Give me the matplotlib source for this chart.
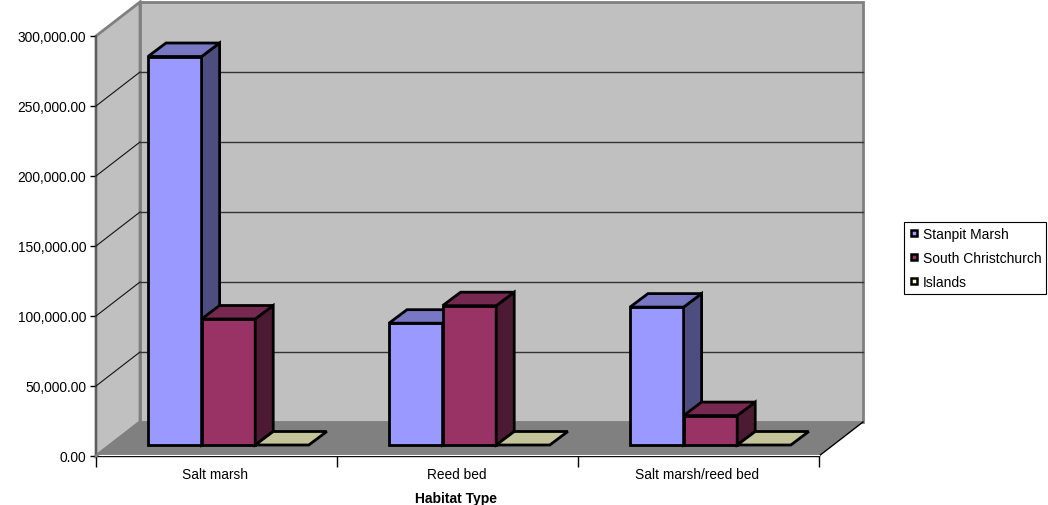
import matplotlib
matplotlib.use('Agg')
import matplotlib.pyplot as plt
from matplotlib.patches import Polygon
from matplotlib.lines import Line2D

plt.rcParams['font.family'] = ['Liberation Sans', 'DejaVu Sans']

categories = ['Salt marsh', 'Reed bed', 'Salt marsh/reed bed']
stanpit = [277500, 87000, 98500]
south = [90000, 99500, 21000]
islands = [0, 0, 0]
series_names = ['Stanpit Marsh', 'South Christchurch', 'Islands']
yticks = [0, 50000, 100000, 150000, 200000, 250000, 300000]

front_cols = ['#9999FF', '#993366', '#FFFFCC']
side_cols = ['#4D4D80', '#4D1A33', '#808066']
top_cols = ['#7777C4', '#772850', '#C4C49B']

W, H = 1048, 506
fig = plt.figure(figsize=(W / 100, H / 100), dpi=100, facecolor='white')
ax = fig.add_axes([96 / W, 1 - 457 / H, 723 / W, 420 / H], facecolor='none')
ax.set_xlim(0, 3)
ax.set_ylim(0, 300000)

# px -> data units
px_x = 3 / 723
px_y = 300000 / 420

# wall depth and bar depth
dx = 44 * px_x
dy = 34 * px_y
bdx = 18 * px_x
bdy = 13.5 * px_y
base_x = 52 * px_x
base_y = 11 * px_y
bar_w = 53.6 * px_x
ymax = yticks[-1]


def poly(pts, col, ec, lw, z):
    ax.add_patch(Polygon(pts, closed=True, facecolor=col, edgecolor=ec, lw=lw,
                         zorder=z, clip_on=False, joinstyle='miter'))


# walls and floor
poly([(0, 0), (dx, dy), (dx, ymax + dy), (0, ymax)], '#C0C0C0', '#808080', 2, 1)
poly([(dx, dy), (3 + dx, dy), (3 + dx, ymax + dy), (dx, ymax + dy)], '#C0C0C0', '#808080', 2, 1)
poly([(0, 0), (3, 0), (3 + dx, dy), (dx, dy)], '#808080', 'none', 0, 2)
ax.plot([3, 3 + dx], [0, dy], color='black', lw=1, zorder=3, clip_on=False)
ax.plot([0, 3], [700, 700], color='white', lw=0.8, zorder=3, clip_on=False)
ax.plot([0, dx], [0, dy], color='#808080', lw=2, zorder=3, clip_on=False)

# gridlines
for v in yticks[1:-1]:
    ax.plot([0, dx], [v, v + dy], color='#111111', lw=0.8, zorder=3, clip_on=False)
    ax.plot([dx, 3 + dx], [v + dy, v + dy], color='#333333', lw=1, zorder=3, clip_on=False)

# bars
all_series = [stanpit, south, islands]
for c in range(len(categories)):
    for s, vals in enumerate(all_series):
        x0 = c + base_x + s * bar_w
        x1 = x0 + bar_w
        y0 = base_y
        y1 = base_y + vals[c]
        z = 5 + c * 3 + s
        if vals[c] > 0:
            poly([(x0, y0), (x1, y0), (x1, y1), (x0, y1)], front_cols[s], 'black', 2, z)
            poly([(x1, y0), (x1 + bdx, y0 + bdy), (x1 + bdx, y1 + bdy), (x1, y1)], side_cols[s], 'black', 2, z)
        poly([(x0, y1), (x1, y1), (x1 + bdx, y1 + bdy), (x0 + bdx, y1 + bdy)], top_cols[s], 'black', 2, z)

# axes
for name in ['top', 'right']:
    ax.spines[name].set_visible(False)
ax.spines['left'].set_color('#555555')
ax.spines['left'].set_linewidth(1.2)
ax.spines['bottom'].set_color('black')
ax.spines['bottom'].set_linewidth(1)
ax.set_yticks(yticks)
ax.set_yticklabels(['{:,.2f}'.format(v) for v in yticks], fontsize=9.9)
ax.tick_params(axis='y', length=4, width=1, pad=3)
ax.set_xticks([0, 1, 2, 3])
ax.set_xticklabels([])
ax.set_xticks([0.495, 1.495, 2.495], minor=True)
ax.set_xticklabels(categories, minor=True, fontsize=9.9)
ax.tick_params(axis='x', which='major', length=8, width=1)
ax.tick_params(axis='x', which='minor', length=0, pad=8)
ax.set_xlabel('Habitat Type', fontsize=10, fontweight='bold', labelpad=7, x=0.4985)

# legend
handles = [Line2D([], [], ls='none', marker='s', ms=5, mfc=front_cols[i], mec='black', mew=1.8)
           for i in range(3)]
leg = fig.legend(handles, series_names, loc='upper left',
                 bbox_to_anchor=(904 / W, 1 - 223 / H), bbox_transform=fig.transFigure,
                 fontsize=10, frameon=True, fancybox=False, edgecolor='black', framealpha=1,
                 borderaxespad=0, borderpad=0.35, handlelength=0.7, handletextpad=0.3,
                 labelspacing=0.72)
leg.get_frame().set_linewidth(0.8)

fig.savefig('out.png', dpi=100, facecolor='white')
